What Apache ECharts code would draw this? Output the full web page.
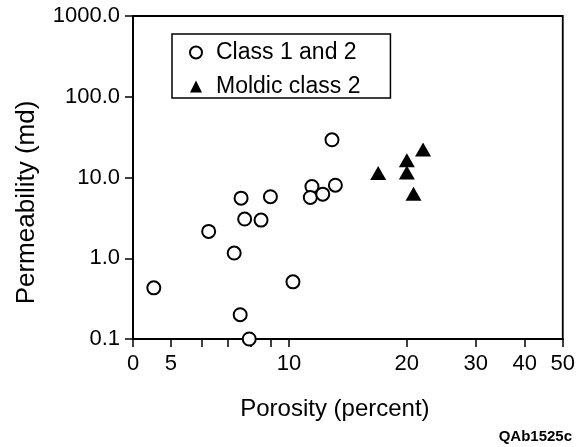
<!DOCTYPE html>
<html>
<head>
<meta charset="utf-8">
<script src="https://cdn.jsdelivr.net/npm/echarts@6/dist/echarts.min.js"></script>
<style>
  html, body { margin: 0; padding: 0; background: #fff; }
  #chart { width: 578px; height: 447px; }
</style>
</head>
<body>
<div id="chart"></div>
<script>
// Porosity (percent) and permeability (md) for each sample group
const class12Porosity = [4.52, 6.24, 7.25, 7.55, 7.71, 7.51, 7.92, 8.49, 8.97, 10.24, 11.45, 11.34, 12.2, 13.14, 12.88];
const class12Permeability = [0.43, 2.15, 1.16, 5.55, 3.06, 0.2, 0.1, 2.97, 5.78, 0.51, 7.74, 5.66, 6.22, 8.03, 29.3];
const moldicPorosity = [16.9, 20.0, 20.0, 22.0, 20.8];
const moldicPermeability = [11.4, 16.4, 11.5, 22.2, 6.3];

// Axis ticks and labels
const porosityTicks = [4, 5, 6, 7, 8, 9, 10, 20, 30, 40, 50];
const porosityLabels = [4, 5, 10, 20, 30, 40, 50];
const seriesNames = ['Class 1 and 2', 'Moldic class 2'];

const pairs = (xs, ys) => xs.map((x, i) => [x, ys[i]]);

const FONT = 'Liberation Sans, Arial, Helvetica, sans-serif';
const chart = echarts.init(document.getElementById('chart'), null, { renderer: 'canvas' });

chart.setOption({
  animation: false,
  backgroundColor: '#fff',
  textStyle: { fontFamily: FONT, color: '#000' },
  grid: {
    left: 133, top: 16, right: 15, bottom: 108,
    show: true, borderColor: '#000', borderWidth: 1.8, backgroundColor: 'transparent'
  },
  legend: {
    orient: 'vertical',
    left: 172, top: 34,
    padding: [7, 30, 0, 17],
    itemGap: 11,
    itemWidth: 12, itemHeight: 12,
    backgroundColor: '#fff',
    borderColor: '#000', borderWidth: 1.5,
    textStyle: { fontSize: 23, color: '#000', fontFamily: FONT, lineHeight: 22, padding: [0, 0, 0, 9] },
    data: [
      { name: seriesNames[0], icon: 'circle' },
      { name: seriesNames[1], icon: 'triangle' }
    ]
  },
  xAxis: {
    type: 'log',
    logBase: 10,
    min: 4, max: 50,
    name: 'Porosity (percent)',
    nameLocation: 'middle',
    nameGap: 58,
    nameTextStyle: { fontSize: 24, color: '#000', fontFamily: FONT, padding: [0, 26, 0, 0] },
    axisLine: { lineStyle: { color: '#000', width: 2 } },
    axisTick: { customValues: porosityTicks, length: 8, lineStyle: { color: '#000', width: 1.5 } },
    axisLabel: {
      customValues: porosityLabels,
      fontSize: 22, color: '#000', fontFamily: FONT, margin: 14,
      formatter: v => (Math.abs(v - 4) < 1e-6 ? '0' : String(Math.round(v)))
    },
    splitLine: { show: false },
    minorTick: { show: false }
  },
  yAxis: {
    type: 'log',
    logBase: 10,
    min: 0.1, max: 1000,
    name: 'Permeability (md)',
    nameLocation: 'middle',
    nameRotate: 90,
    nameGap: 93,
    nameTextStyle: { fontSize: 26, color: '#000', fontFamily: FONT, padding: [0, 50, 0, 0] },
    axisLine: { lineStyle: { color: '#000', width: 2 } },
    axisTick: { length: 8, lineStyle: { color: '#000', width: 1.5 } },
    axisLabel: {
      fontSize: 22, color: '#000', fontFamily: FONT, margin: 13,
      formatter: v => Number(v).toFixed(1)
    },
    splitLine: { show: false },
    minorTick: { show: false }
  },
  graphic: [{
    type: 'text',
    right: 6, top: 429,
    style: { text: 'QAb1525c', font: 'bold 15px ' + FONT, fill: '#000' }
  }],
  series: [
    {
      name: seriesNames[0],
      type: 'scatter',
      clip: false,
      symbol: 'circle',
      symbolSize: 13,
      itemStyle: { color: '#fff', borderColor: '#000', borderWidth: 2, opacity: 1 },
      data: pairs(class12Porosity, class12Permeability),
      z: 5
    },
    {
      name: seriesNames[1],
      type: 'scatter',
      clip: false,
      symbol: 'triangle',
      symbolSize: [16, 14],
      itemStyle: { color: '#000', opacity: 1 },
      data: pairs(moldicPorosity, moldicPermeability),
      z: 5
    }
  ]
});
</script>
</body>
</html>
